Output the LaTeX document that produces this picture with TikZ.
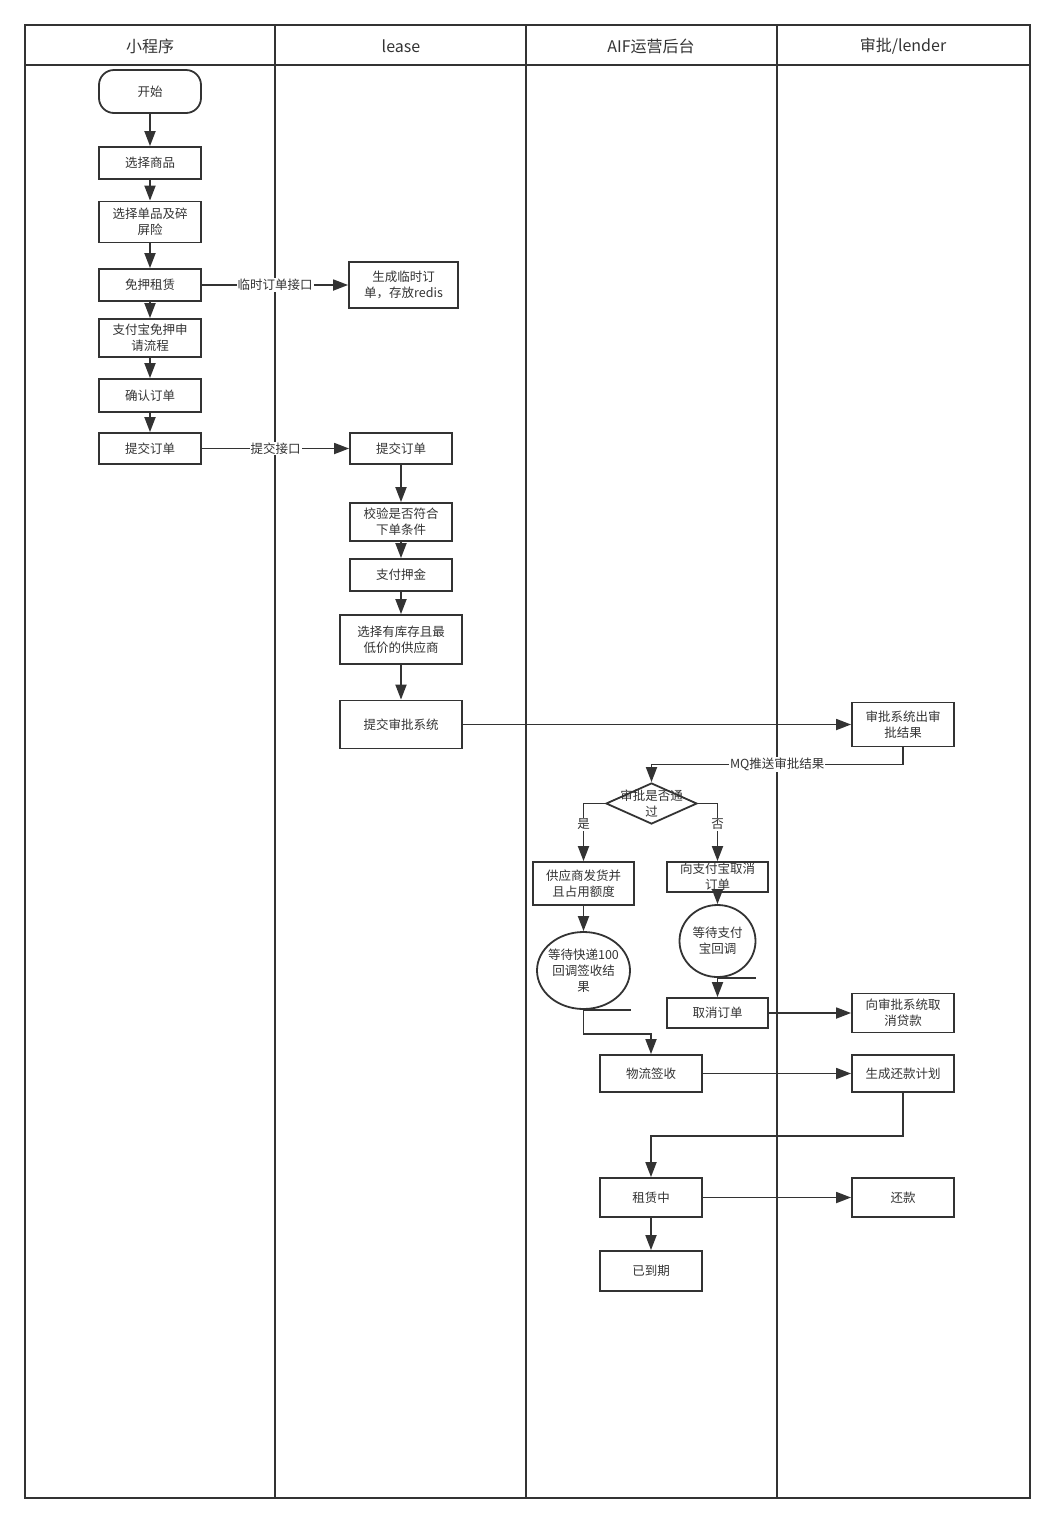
\documentclass[tikz,border=0pt]{standalone}
\usepackage{fontspec}
\setmainfont{Noto Sans CJK SC}
\usepackage{tikz}
\usetikzlibrary{arrows.meta,shapes.geometric}
\definecolor{myLine}{RGB}{51,51,51}
\definecolor{myText}{RGB}{51,51,51}

\begin{document}
\begin{tikzpicture}[%
    x=1pt, y=-1pt,
    every node/.style={
        font=\fontsize{12.5}{16}\selectfont,
        text=myText,
        align=center,
    },
    box/.style={
        draw=myLine, line width=1.8pt,
        inner sep=0pt,
        minimum width=102pt, minimum height=32pt,
    },
    store/.style={
        draw=myLine, line width=1.8pt,
        ellipse, inner sep=0pt,
    },
    flow/.style={
        draw=myLine, line width=1.8pt,
        -{Triangle[length=15pt,width=11pt]},
    },
    tag/.style={fill=white, inner sep=1pt},
    head/.style={font=\fontsize{16}{19}\selectfont},
]
\useasboundingbox (0,0) rectangle (1055,1524);

% draw lane frame
\draw[myLine, line width=2pt] (25,25) rectangle (1030,1498);
\draw[myLine, line width=2pt] (25,65) -- (1030,65);
\foreach \x in {275,526,777}{
    \draw[myLine, line width=2pt] (\x,25) -- (\x,1498);
}

% place lane titles
\node[head] (hMini) at (150,46) {小程序};
\node[head] (hLease) at (401,46) {lease};
\node[head] (hAif) at (651,46) {AIF运营后台};
\node[head] (hLender) at (903,46) {审批/lender};

% mini program lane
\node[box, rounded corners=15pt, minimum height=43pt] (start) at (150,91.5) {开始};
\node[box] (pickGoods) at (150,163) {选择商品};
\node[box, minimum height=41pt] (pickItem) at (150,222) {选择单品及碎\\屏险};
\node[box] (freeRent) at (150,285) {免押租赁};
\node[box, minimum height=38pt] (aliFlow) at (150,338) {支付宝免押申\\请流程};
\node[box, minimum height=33pt] (confirm) at (150,395.5) {确认订单};
\node[box, minimum height=31pt] (submit) at (150,448.5) {提交订单};

% lease lane
\node[box, minimum width=109pt, minimum height=46pt] (tmpOrder) at (403.5,285) {生成临时订\\单，存放redis};
\node[box, minimum height=31pt] (leaseSubmit) at (401,448.5) {提交订单};
\node[box, minimum height=38pt] (check) at (401,522) {校验是否符合\\下单条件};
\node[box] (deposit) at (401,575) {支付押金};
\node[box, minimum width=122pt, minimum height=49pt] (supplier) at (401,639.5) {选择有库存且最\\低价的供应商};
\node[box, minimum width=122pt, minimum height=48pt] (toAudit) at (401,724.5) {提交审批系统};

% AIF lane
\node[draw=myLine, line width=1.8pt, diamond, inner sep=0pt,
    minimum width=91pt, minimum height=41pt] (pass) at (651.5,803.5) {};
\node (passText) at (pass) {审批是否通\\过};
\node[box, minimum width=101pt, minimum height=43pt] (ship) at (583.5,883.5) {供应商发货并\\且占用额度};
\node[box, minimum width=101pt, minimum height=30pt] (aliCancel) at (717.5,877) {向支付宝取消\\订单};
\node[store, minimum width=93pt, minimum height=77pt] (waitExpress) at (583.5,970.5) {};
\node (waitExpressText) at (waitExpress) {等待快递100\\回调签收结\\果};
\node[store, minimum width=76pt, minimum height=72pt] (waitAli) at (717.5,941) {};
\node (waitAliText) at (waitAli) {等待支付\\宝回调};
\node[box, minimum width=101pt, minimum height=30pt] (cancel) at (717.5,1013) {取消订单};
\node[box, minimum height=37pt] (sign) at (651,1073.5) {物流签收};
\node[box, minimum height=39pt] (renting) at (651,1197.5) {租赁中};
\node[box, minimum height=40pt] (expired) at (651,1271) {已到期};

% lender lane
\node[box, minimum height=44pt] (auditResult) at (903,724.5) {审批系统出审\\批结果};
\node[box, minimum height=39pt] (cancelLoan) at (903,1013) {向审批系统取\\消贷款};
\node[box, minimum height=37pt] (plan) at (903,1073.5) {生成还款计划};
\node[box, minimum height=39pt] (repay) at (903,1197.5) {还款};

% tails of the storage shapes
\draw[myLine, line width=1.8pt] (waitExpress.south) -- ++(47,0);
\draw[myLine, line width=1.8pt] (waitAli.south) -- ++(38,0);

% draw connectors
\draw[flow] (start) -- (pickGoods);
\draw[flow] (pickGoods) -- (pickItem);
\draw[flow] (pickItem) -- (freeRent);
\draw[flow] (freeRent) -- (aliFlow);
\draw[flow] (aliFlow) -- (confirm);
\draw[flow] (confirm) -- (submit);
\draw[flow] (freeRent) -- node[tag] (tmpApi) {临时订单接口} (tmpOrder);
\draw[flow] (submit) -- node[tag] (submitApi) {提交接口} (leaseSubmit);
\draw[flow] (leaseSubmit) -- (check);
\draw[flow] (check) -- (deposit);
\draw[flow] (deposit) -- (supplier);
\draw[flow] (supplier) -- (toAudit);
\draw[flow] (toAudit) -- (auditResult);
\draw[flow] (auditResult.south) -- ++(0,17) -| node[tag, pos=0.25] (mqLabel) {MQ推送审批结果} (pass.north);
\draw[flow] (pass.west) -| node[tag, pos=0.68] (yesLabel) {是} (ship.north);
\draw[flow] (pass.east) -| node[tag, pos=0.68] (noLabel) {否} (aliCancel.north);
\draw[flow] (ship) -- (waitExpress);
\draw[flow] (aliCancel) -- (waitAli);
\draw[flow] (waitAli) -- (cancel);
\draw[flow] (waitExpress.south) -- ++(0,24) -| (sign.north);
\draw[flow] (cancel) -- (cancelLoan);
\draw[flow] (sign) -- (plan);
\draw[flow] (plan.south) -- ++(0,43) -| (renting.north);
\draw[flow] (renting) -- (repay);
\draw[flow] (renting) -- (expired);

\end{tikzpicture}
\end{document}
